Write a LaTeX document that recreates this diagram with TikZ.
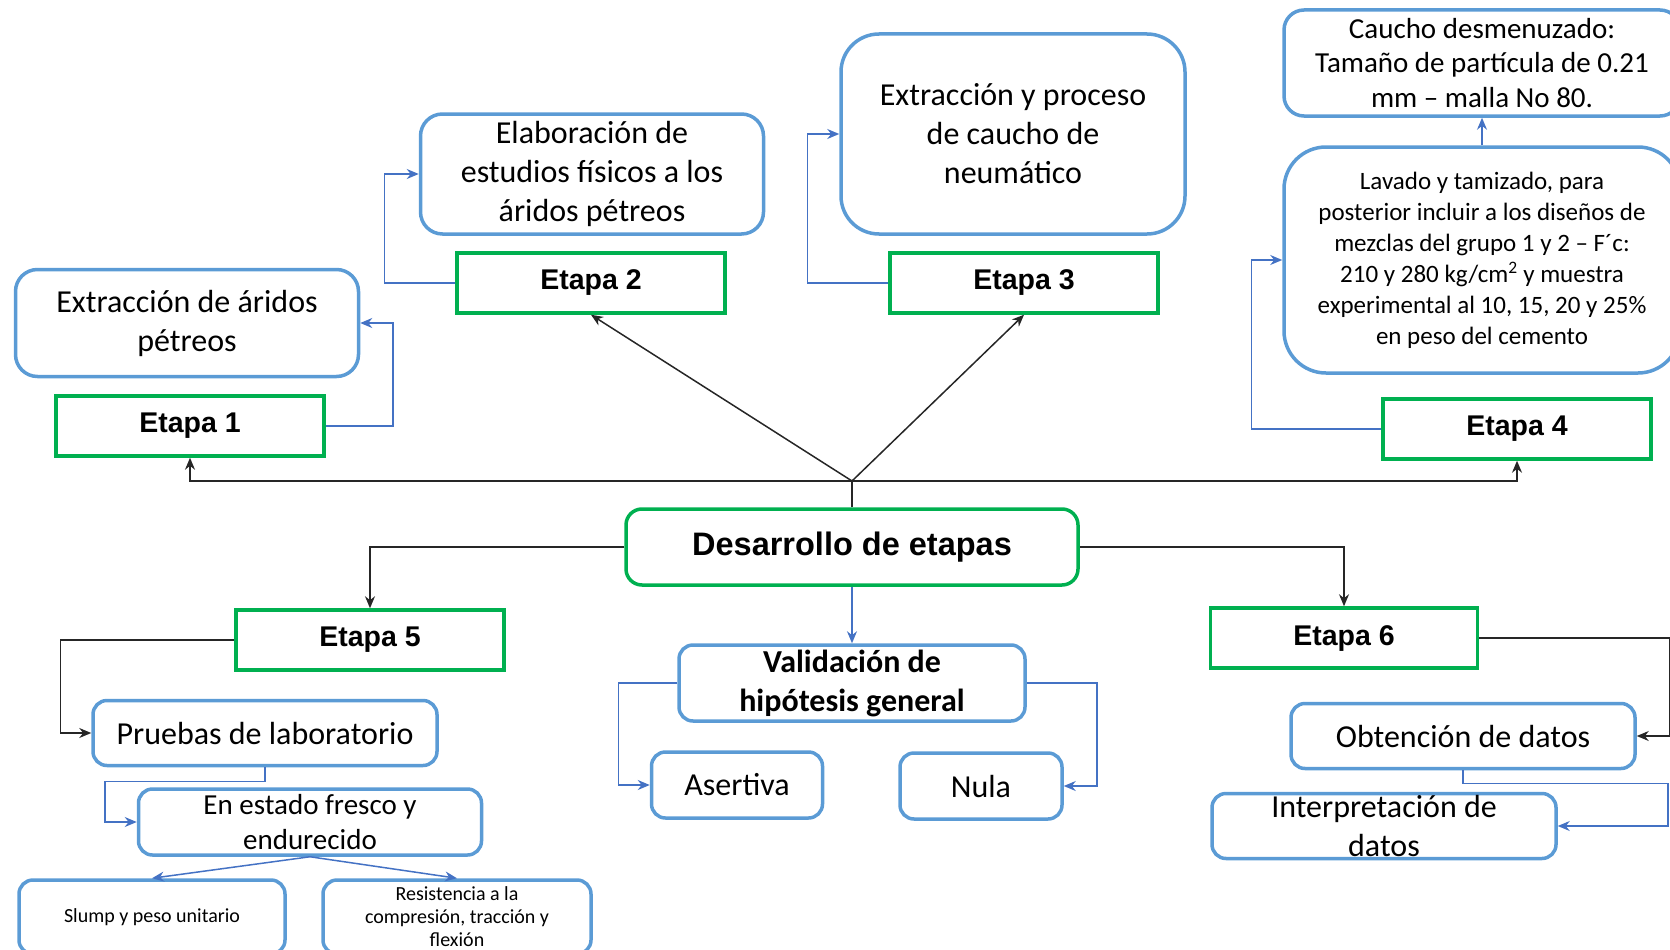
\documentclass[tikz,border=0pt]{standalone}
\usepackage{fontspec}
\setmainfont{Carlito}
\newfontfamily\arialfont{Liberation Sans}
\usetikzlibrary{arrows.meta}
\definecolor{stagegreen}{HTML}{00B050}
\definecolor{boxblue}{HTML}{5B9BD5}
\definecolor{linkblue}{HTML}{4472C4}
\tikzset{
    stage/.style={draw=stagegreen, line width=3.5pt, minimum width=268pt, minimum height=60pt, inner sep=0pt,
        font=\arialfont\bfseries\fontsize{28.5}{34}\selectfont},
    infobox/.style={draw=boxblue, line width=3.5pt, rounded corners=14pt, inner sep=0pt, align=center,
        font=\fontsize{32}{39}\selectfont},
    smallbox/.style={infobox, minimum width=266pt, minimum height=74pt, font=\fontsize{20}{23}\selectfont},
    blacklink/.style={draw=black!85, line width=1.5pt, -{Stealth[length=12pt,width=10pt]}},
    bluelink/.style={draw=linkblue, line width=1.5pt, -{Stealth[length=12pt,width=10pt]}},
}
\begin{document}
\begin{tikzpicture}[x=1pt, y=-1pt]
    \useasboundingbox (0,0) rectangle (1670,950);
    \clip (0,0) rectangle (1670,950);

    \node[stage, rounded corners=16pt, minimum width=452pt, minimum height=76pt,
        font=\arialfont\bfseries\fontsize{32.5}{39}\selectfont] (dev) at (852,547) {Desarrollo de etapas};
    \coordinate (J) at (852,481);

    \node[stage] (e1) at (190,426) {Etapa 1};
    \node[stage] (e2) at (591,283) {Etapa 2};
    \node[stage] (e3) at (1024,283) {Etapa 3};
    \node[stage] (e4) at (1517,429) {Etapa 4};
    \node[stage] (e5) at (370,640) {Etapa 5};
    \node[stage, minimum width=267pt] (e6) at (1344,638) {Etapa 6};

    \node[infobox, rounded corners=22pt, minimum width=343pt, minimum height=107pt] (aridos) at (187,323)
        {Extracción de áridos\\pétreos};
    \node[infobox, rounded corners=22pt, minimum width=343pt, minimum height=120pt] (fisicos) at (592,174)
        {Elaboración de\\estudios físicos a los\\áridos pétreos};
    \node[infobox, rounded corners=38pt, minimum width=344pt, minimum height=200pt] (caucho) at (1013,134)
        {Extracción y proceso\\de caucho de\\neumático};
    \node[infobox, rounded corners=20pt, minimum width=396pt, minimum height=106pt,
        font=\fontsize{29}{34.5}\selectfont] (malla) at (1482,63)
        {Caucho desmenuzado:\\Tamaño de partícula de 0.21\\mm -- malla No 80.};
    \node[infobox, rounded corners=42pt, minimum width=396pt, minimum height=226pt,
        font=\fontsize{25}{31}\selectfont] (lavado) at (1482,260)
        {Lavado y tamizado, para\\posterior incluir a los diseños de\\mezclas del grupo 1 y 2 -- F´c:\\
         210 y 280 kg/cm\textsuperscript{2} y muestra\\experimental al 10, 15, 20 y 25\%\\en peso del cemento};

    \node[infobox, minimum width=346pt, minimum height=76pt, font=\bfseries\fontsize{32}{39}\selectfont] (valid) at (852,683)
        {Validación de\\hipótesis general};
    \node[infobox, minimum width=171pt, minimum height=66pt] (asertiva) at (737,785) {Asertiva};
    \node[infobox, minimum width=162pt, minimum height=66pt] (nula) at (981,786) {Nula};

    \node[infobox, minimum width=344pt, minimum height=65pt] (pruebas) at (265,733) {Pruebas de laboratorio};
    \node[infobox, minimum width=343pt, minimum height=66pt, font=\fontsize{29}{35}\selectfont] (estado) at (310,822)
        {En estado fresco y\\endurecido};
    \node[smallbox] (slump) at (152,917) {Slump y peso unitario};
    \node[smallbox, minimum width=268pt] (resist) at (457,917) {Resistencia a la\\compresión, tracción y\\flexión};

    \node[infobox, minimum width=344pt, minimum height=65pt] (obtencion) at (1463,736) {Obtención de datos};
    \node[infobox, minimum width=344pt, minimum height=65pt] (interp) at (1384,826) {Interpretación de\\datos};

    \draw[blacklink, -] (dev.north) -- (J);
    \draw[blacklink] (J) -| (e1.south);
    \draw[blacklink] (J) -| (e4.south);
    \draw[blacklink] (J) -- (e2.south);
    \draw[blacklink] (J) -- (e3.south);
    \draw[blacklink] (dev.west) -| (e5.north);
    \draw[blacklink] (dev.east) -| (e6.north);
    \draw[blacklink] (e5.west) -- ++(-174,0) |- (pruebas.west);
    \draw[blacklink] (e6.east) -- ++(190,0) |- (obtencion.east);

    \draw[bluelink] (e1.east) -- ++(67,0) |- (aridos.east);
    \draw[bluelink] (e2.west) -- ++(-71,0) |- (fisicos.west);
    \draw[bluelink] (e3.west) -- ++(-81,0) |- (caucho.west);
    \draw[bluelink] (e4.west) -- ++(-130,0) |- (lavado.west);
    \draw[bluelink] (lavado.north) -- (malla.south);
    \draw[bluelink] (dev.south) -- (valid.north);
    \draw[bluelink] (valid.west) -- ++(-59,0) |- (asertiva.west);
    \draw[bluelink] (valid.east) -- ++(70,0) |- (nula.east);
    \draw[bluelink] (pruebas.south) -- ++(0,14) -- ++(-160,0) |- (estado.west);
    \draw[bluelink] (estado.south) -- (slump.north);
    \draw[bluelink] (estado.south) -- (resist.north);
    \draw[bluelink] (obtencion.south) -- ++(0,13) -- ++(205,0) |- (interp.east);
\end{tikzpicture}
\end{document}
